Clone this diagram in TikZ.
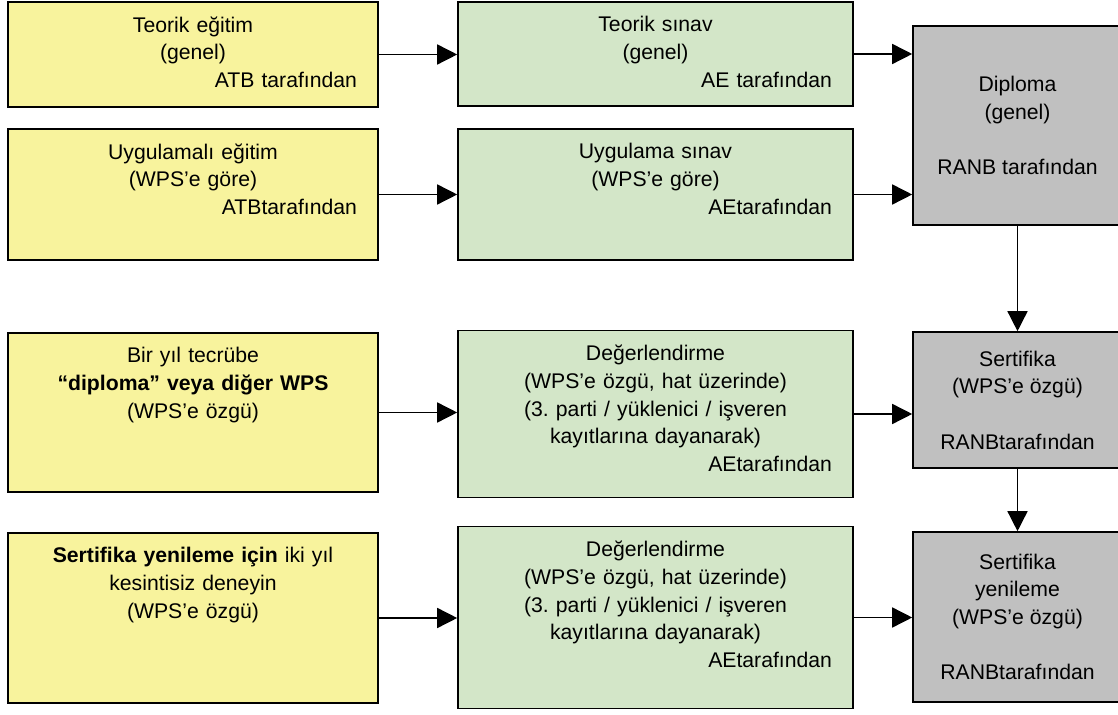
\documentclass[tikz,border=0pt]{standalone}
\usepackage{fontspec}
\setmainfont{Liberation Sans}
\usepackage{xcolor}
\usepackage{tikz}
\usetikzlibrary{arrows.meta, positioning}
\definecolor{egitimsari}{HTML}{F8F39D}
\definecolor{sinavyesil}{HTML}{D3E6C8}
\definecolor{belgegri}{HTML}{C0C0C0}
\frenchspacing

\begin{document}
\begin{tikzpicture}[
    x=0.5pt, y=-0.5pt,
    every node/.style={font=\fontsize{10.6pt}{13.85pt}\selectfont},
    kutu/.style={draw, line width=0.8pt, inner sep=0pt},
    egitim/.style={kutu, fill=egitimsari, minimum width=185pt},
    sinav/.style={kutu, fill=sinavyesil, minimum width=197.5pt},
    belge/.style={kutu, fill=belgegri, minimum width=104.5pt, align=center},
    yazi/.style={anchor=north, inner sep=0pt, align=center, yshift=-7.5pt},
    ok/.style={line width=0.75pt, -{Triangle[length=10pt, width=10pt]}}
]
\useasboundingbox (0,0) rectangle (1118,715);
% sol sutun: egitim
\node[egitim, minimum height=52.5pt] (teoegit)  at (193,54.5)  {};
\node[egitim, minimum height=65.5pt] (uygegit)  at (193,194.5) {};
\node[egitim, minimum height=79.5pt] (tecrube)  at (193,412.5) {};
\node[egitim, minimum height=85pt]   (yenidene) at (193,618)   {};
% orta sutun: sinav
\node[sinav, minimum height=52pt]   (teosinav) at (655.5,54)    {};
\node[sinav, minimum height=65.5pt] (uygsinav) at (655.5,194.5) {};
\node[sinav, minimum height=83.5pt] (degerl1)  at (655.5,414)   {};
\node[sinav, minimum height=91pt]   (degerl2)  at (655.5,617.5) {};
% sag sutun: belge
\node[belge, minimum height=99.5pt] (diploma)   at (1017.5,125.5)
  {Diploma\\(genel)\\[13.85pt]RANB tarafından};
\node[belge, minimum height=68pt]   (sertifika) at (1017.5,400)
  {Sertifika\\(WPS’e özgü)\\[13.85pt]RANBtarafından};
\node[belge, minimum height=85pt]   (yenileme)  at (1017.5,617)
  {Sertifika\\yenileme\\(WPS’e özgü)\\[13.85pt]RANBtarafından};

\node[yazi, text width=164pt] (teoegit-y) at (teoegit.north)
  {Teorik eğitim\\(genel)\\\hspace*{\fill}ATB tarafından};
\node[yazi, text width=164pt] (uygegit-y) at (uygegit.north)
  {Uygulamalı eğitim\\(WPS’e göre)\\\hspace*{\fill}ATBtarafından};
\node[yazi, text width=164pt] (tecrube-y) at (tecrube.north)
  {Bir yıl tecrübe\\\textbf{“diploma” veya diğer WPS}\\(WPS’e özgü)};
\node[yazi, text width=164pt] (yenidene-y) at (yenidene.north)
  {\textbf{Sertifika yenileme için} iki yıl\\kesintisiz deneyin\\(WPS’e özgü)};
\node[yazi, text width=176.5pt] (teosinav-y) at (teosinav.north)
  {Teorik sınav\\(genel)\\\hspace*{\fill}AE tarafından};
\node[yazi, text width=176.5pt] (uygsinav-y) at (uygsinav.north)
  {Uygulama sınav\\(WPS’e göre)\\\hspace*{\fill}AEtarafından};
\foreach \k in {degerl1,degerl2}
  \node[yazi, text width=176.5pt] (\k-y) at (\k.north)
    {Değerlendirme\\(WPS’e özgü, hat üzerinde)\\(3. parti / yüklenici / işveren\\kayıtlarına dayanarak)\\\hspace*{\fill}AEtarafından};

\foreach \a/\b in {teoegit/teosinav, teosinav/diploma, uygegit/uygsinav, uygsinav/diploma,
                   tecrube/degerl1, degerl1/sertifika, yenidene/degerl2, degerl2/yenileme}
  \draw[ok] (\a.east) -- (\a.east -| \b.west);
\draw[ok] (diploma) -- (sertifika);
\draw[ok] (sertifika) -- (yenileme);
\end{tikzpicture}
\end{document}
